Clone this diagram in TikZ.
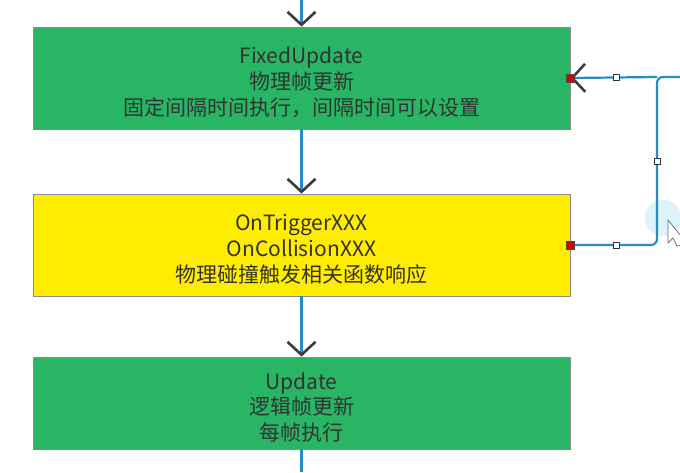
\documentclass[tikz,border=0pt]{standalone}
\usepackage{fontspec}
\setmainfont{Noto Sans CJK SC}
\usetikzlibrary{arrows.meta}
\definecolor{boxgreen}{RGB}{40,182,100}
\definecolor{boxyellow}{RGB}{255,237,0}
\definecolor{flowblue}{RGB}{38,140,200}
\definecolor{tipgray}{RGB}{60,60,60}
\definecolor{txtgray}{RGB}{50,50,50}
\tikzset{
  stepbox/.style={draw=black!45, line width=0.8pt, minimum width=537pt, inner sep=0pt},
  steptext/.style={align=center, text=txtgray, inner sep=0pt, font=\fontsize{21}{25.8}\selectfont},
  flow/.style={draw=flowblue, line width=2.2pt,
    -{Straight Barb[color=tipgray, line width=2.6pt, length=13pt, width=28pt]}},
  plainflow/.style={draw=flowblue, line width=2.2pt},
  handle/.style={draw=black!80, fill=white, line width=0.7pt, minimum size=6pt, inner sep=0pt},
  redhandle/.style={draw=black!70, fill=red!85!black, line width=0.6pt, minimum size=8pt, inner sep=0pt}
}
\begin{document}
\begin{tikzpicture}[x=1pt,y=-1pt]
\useasboundingbox (0,0) rectangle (680,472);
\fill[white] (0,0) rectangle (680,472);
% glow
\fill[cyan!18, opacity=0.8] (663,218) circle (18pt);
% boxes
\node[stepbox, fill=boxgreen, minimum height=102pt] (b1) at (301.5,78) {};
\node[stepbox, fill=boxyellow, minimum height=102pt] (b2) at (301.5,245) {};
\node[stepbox, fill=boxgreen, minimum height=92pt] (b3) at (301.5,403) {};
\node[steptext] (t1) at ([yshift=-4.5pt]b1.center)
  {FixedUpdate\\物理帧更新\\固定间隔时间执行，间隔时间可以设置};
\node[steptext] (t2) at ([yshift=-4pt]b2.center)
  {OnTriggerXXX\\OnCollisionXXX\\物理碰撞触发相关函数响应};
\node[steptext] (t3) at ([yshift=-4.5pt]b3.center)
  {Update\\逻辑帧更新\\每帧执行};
% coordinates
\coordinate (top) at (301.5,0);
\coordinate (bot) at (301.5,472);
\coordinate (lc) at (657,77);
\coordinate (redge) at (682,77);
% connectors
\draw[flow] (top) -- (b1.north);
\draw[flow] (b1.south) -- (b2.north);
\draw[flow] (b2.south) -- (b3.north);
\draw[plainflow] (b3.south) -- (bot);
\draw[plainflow, rounded corners=6pt] (b2.east) -| (lc) -- (redge);
\draw[flow] (lc) -- (b1.east);
% handles
\node[redhandle] (r1) at (b1.east) {};
\node[redhandle] (r2) at (b2.east) {};
\node[handle] (h1) at (616,77) {};
\node[handle] (h2) at (616,245) {};
\node[handle] (h3) at (657,161) {};
% cursor
\draw[black!55, fill=white, line width=0.8pt, line join=round]
  (668,220) -- (668,243) -- (673,238) -- (677,246) -- (681,245) -- (681,236) -- cycle;
\end{tikzpicture}
\end{document}
